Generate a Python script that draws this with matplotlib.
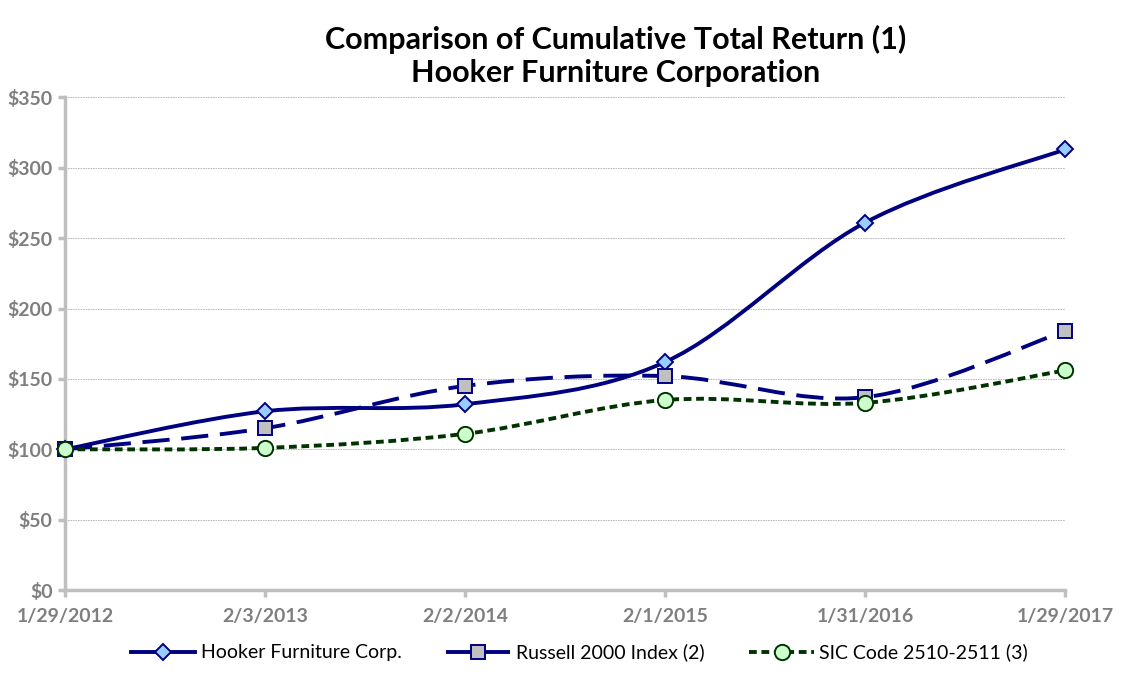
import numpy as np
import matplotlib
matplotlib.use("Agg")
import matplotlib.pyplot as plt
from matplotlib.path import Path
from matplotlib.patches import PathPatch
from matplotlib.lines import Line2D

# Data
dates = ["1/29/2012", "2/3/2013", "2/2/2014", "2/1/2015", "1/31/2016", "1/29/2017"]
hooker = [100, 127, 132, 162, 261, 313]
russell = [100, 115, 145, 152, 137, 184]
sic = [100, 101, 111, 135, 133, 156]

plt.rcParams['font.family'] = ['Lato', 'DejaVu Sans']

fig = plt.figure(figsize=(11.25, 7), dpi=100)
ax = fig.add_axes([0.0578, 0.157, 0.889, 0.704])

x = np.arange(len(dates))


def smooth_path(xs, ys, t=1.0 / 6):
    # Excel-style smoothed line: cubic bezier through the points
    xs = np.asarray(xs, float)
    ys = np.asarray(ys, float)
    verts = [(xs[0], ys[0])]
    codes = [Path.MOVETO]
    n = len(xs)
    for i in range(n - 1):
        p0 = np.array([xs[max(i - 1, 0)], ys[max(i - 1, 0)]])
        p1 = np.array([xs[i], ys[i]])
        p2 = np.array([xs[i + 1], ys[i + 1]])
        p3 = np.array([xs[min(i + 2, n - 1)], ys[min(i + 2, n - 1)]])
        c1 = p1 + (p2 - p0) * t
        c2 = p2 - (p3 - p1) * t
        verts += [tuple(c1), tuple(c2), tuple(p2)]
        codes += [Path.CURVE4] * 3
    return Path(verts, codes)


series = [
    (hooker, "#000080", "-", "D", "#99CCFF", "#000080", 8, "Hooker Furniture Corp."),
    (russell, "#000080", (0, (7, 3)), "s", "#C0C0C0", "#000080", 10, "Russell 2000 Index (2)"),
    (sic, "#003300", (0, (2, 1.2)), "o", "#CCFFCC", "#003300", 11, "SIC Code 2510-2511 (3)"),
]

handles = []
for ys, col, ls, mk, mfc, mec, ms, lab in series:
    patch = PathPatch(smooth_path(x, ys), fill=False, edgecolor=col, lw=2.8,
                      linestyle=ls, zorder=3, capstyle="butt")
    ax.add_patch(patch)
    ax.plot(x, ys, linestyle="none", marker=mk, markersize=ms, markerfacecolor=mfc,
            markeredgecolor=mec, markeredgewidth=1.4, zorder=4, clip_on=False)
    handles.append(Line2D([], [], color=col, lw=2.8, linestyle=ls, marker=mk,
                          markersize=ms, markerfacecolor=mfc, markeredgecolor=mec,
                          markeredgewidth=1.4, label=lab))

ax.set_xlim(0, len(dates) - 1)
ax.set_ylim(0, 350)
ax.set_xticks(x)
ax.set_xticklabels(dates)
ax.set_yticks(np.arange(0, 351, 50))
ax.set_yticklabels(["$%d" % v for v in np.arange(0, 351, 50)])

ax.grid(axis="y", color="#B0B0B0", linestyle=(0, (2, 1)), linewidth=0.6)
ax.set_axisbelow(True)
for s in ["top", "right"]:
    ax.spines[s].set_visible(False)
for s in ["left", "bottom"]:
    ax.spines[s].set_color("#BFBFBF")
    ax.spines[s].set_linewidth(2.5)
ax.tick_params(axis="both", colors="#BFBFBF", width=2.5, length=5)
ax.tick_params(axis="both", labelcolor="#7F7F7F", labelsize=14)
ax.tick_params(axis="x", pad=8)
ax.tick_params(axis="y", pad=4)
for lbl in ax.get_xticklabels() + ax.get_yticklabels():
    lbl.set_fontweight("bold")

fig.suptitle("Comparison of Cumulative Total Return (1)\nHooker Furniture Corporation",
             fontsize=22, fontweight="bold", y=0.965, x=0.547, linespacing=1.25)

fig.legend(handles=handles, loc="center", bbox_to_anchor=(0.515, 0.068), ncol=3,
           frameon=False, fontsize=14, handlelength=3.3, columnspacing=2.3,
           handletextpad=0.3)

fig.savefig("out.png", dpi=100)
